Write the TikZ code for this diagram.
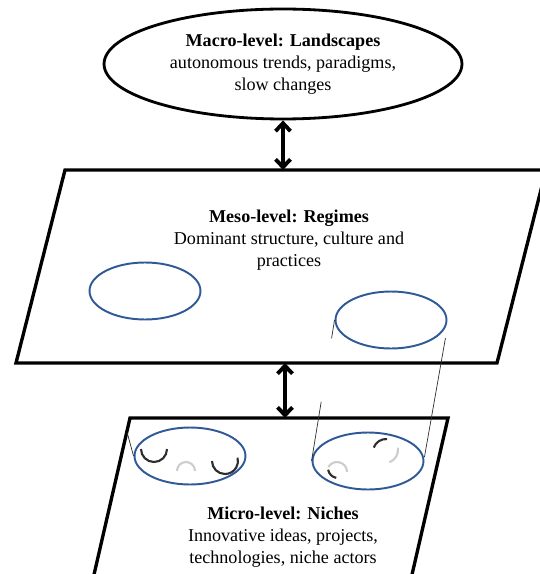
\documentclass[tikz,border=0pt]{standalone}
\usepackage{fontspec}
\setmainfont{Liberation Serif}
\usetikzlibrary{shapes.geometric,arrows.meta,calc}
\definecolor{ellblue}{RGB}{46,88,150}
\definecolor{arcdark}{RGB}{45,45,45}
\definecolor{arclight}{RGB}{205,205,205}
\tikzset{
  levelbox/.style={line width=1.9pt, line join=miter},
  leveltext/.style={align=center, font=\fontsize{10.3}{12.6}\selectfont, inner sep=0pt},
  bluering/.style={draw=ellblue, line width=1.1pt, ellipse, inner sep=0pt,
    minimum width=2.22cm, minimum height=1.14cm},
  biarrow/.style={line width=2.2pt, {Straight Barb[length=4.5pt,width=8.5pt]}-{Straight Barb[length=4.5pt,width=8.5pt]}},
  guide/.style={line width=0.4pt, arcdark},
  darkarc/.style={line width=1.2pt, arcdark},
  lightarc/.style={line width=1.2pt, arclight}
}
\begin{document}
\begin{tikzpicture}[x=0.02cm, y=-0.02cm]
\useasboundingbox (0,0) rectangle (540,574);
\clip (0,0) rectangle (540,574);
\node[draw, ellipse, line width=1.6pt, minimum width=7.16cm, minimum height=2.2cm,
  leveltext] (macro) at (283,64)
  {\textbf{Macro-level: Landscapes}\\autonomous trends, paradigms,\\slow changes};
\coordinate (mesoNW) at (65,170);
\coordinate (mesoNE) at (546,170);
\coordinate (mesoSE) at (497,363);
\coordinate (mesoSW) at (16,363);
\draw[levelbox] (mesoNW) -- (mesoNE) -- (mesoSE) -- (mesoSW) -- cycle;
\coordinate (microNW) at (130,418);
\coordinate (microNE) at (448,418);
\coordinate (microSE) at (408,592);
\coordinate (microSW) at (90,592);
\draw[levelbox] (microSW) -- (microNW) -- (microNE) -- (microSE);
\node[leveltext] (regimes) at (289,240)
  {\textbf{Meso-level: Regimes}\\Dominant structure, culture and\\practices};
\node[leveltext] (niches) at (283,537)
  {\textbf{Micro-level: Niches}\\Innovative ideas, projects,\\technologies, niche actors};
\node[bluering] (regL) at (145,291) {};
\node[bluering] (regR) at (391,320) {};
\node[bluering] (nicheL) at (190,456) {};
\node[bluering] (nicheR) at (368,461) {};
\draw[biarrow] (macro.south) -- (283,170);
\coordinate (mesoBot) at (285,363);
\coordinate (microTop) at (285,418);
\draw[biarrow] (mesoBot) -- (microTop);
\draw[guide] (regR.west) -- ($(regR.west)!0.13!(nicheR.west)$);
\draw[guide] ($(regR.west)!0.58!(nicheR.west)$) -- (nicheR.west);
\draw[guide] ($(regR.east)+(-2,18)$) -- ($(nicheR.east)+(0,-4)$);
\draw[guide] (nicheL.west) -- ($(nicheL.west)!0.14!(regL.west)$);
\draw[darkarc] (167,449) arc[start angle=0, end angle=180, radius=13];
\draw[lightarc] (177,471) arc[start angle=180, end angle=360, radius=9];
\draw[darkarc] (212,461) arc[start angle=180, end angle=-15, radius=13];
\draw[darkarc] ($(386,452)+(200:13)$) arc[start angle=200, end angle=275, radius=13];
\draw[lightarc] ($(385,450)+(-10:13)$) arc[start angle=-10, end angle=70, radius=13];
\draw[lightarc] ($(337,472)+(210:10)$) arc[start angle=210, end angle=360, radius=10];
\draw[darkarc] ($(338,468)+(170:10)$) arc[start angle=170, end angle=100, radius=10];
\end{tikzpicture}
\end{document}
